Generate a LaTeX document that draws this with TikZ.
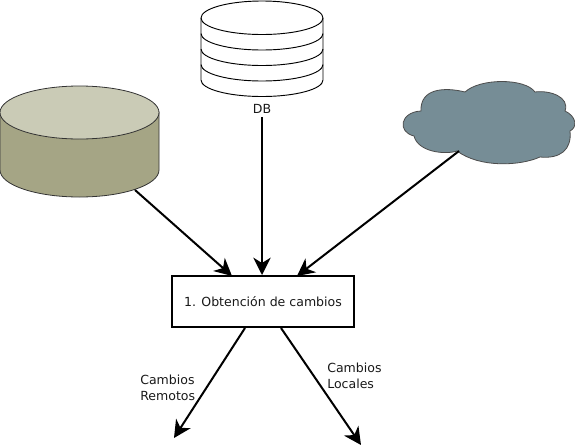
\documentclass[tikz,border=0pt]{standalone}
\usepackage{fontspec}
\setmainfont{DejaVu Sans}
\usetikzlibrary{arrows.meta}
\definecolor{cyltop}{HTML}{CACBB6}
\definecolor{cylside}{HTML}{A5A585}
\definecolor{cloudc}{HTML}{768D96}
\tikzset{
  conn/.style={draw=black,line width=1.5pt,-{Stealth[length=13pt,width=13pt,inset=4pt]}},
  lab/.style={font=\fontsize{9.4pt}{12pt}\selectfont,align=left,inner sep=0pt,text=black!90},
  thin outline/.style={draw=black!80,line width=0.6pt}
}
\begin{document}
\begin{tikzpicture}[x=0.75pt,y=-0.75pt]
\useasboundingbox (0,0) rectangle (575,447);
% source cylinder
\draw[thin outline,fill=cylside] (0,112) -- (0,170) arc[start angle=180,end angle=0,x radius=79.5,y radius=27] -- (159,112) -- cycle;
\draw[thin outline,fill=cyltop] (79.5,112.5) ellipse[x radius=79.5,y radius=26.5];
\coordinate (cylout) at (135,190);
% DB
\draw[draw=black,line width=0.7pt,fill=white] (201,18) -- (201,80) arc[start angle=180,end angle=0,x radius=61,y radius=16.5] -- (323,18) arc[start angle=0,end angle=-180,x radius=61,y radius=17] -- cycle;
\foreach \yy in {18,33.5,49,64.5}
  \draw[draw=black,line width=0.7pt] (201,\yy) arc[start angle=180,end angle=0,x radius=61,y radius=16.5];
\node[lab] (db) at (262,109) {DB};
% cloud
\draw[draw=black!70,line width=0.6pt,fill=cloudc]
  (465,92)
  .. controls (445,87) and (420,88) .. (421,111)
  .. controls (400,112) and (397,132) .. (414,136)
  .. controls (418,152) and (445,155) .. (457,151)
  .. controls (480,168) and (520,166) .. (540,157)
  .. controls (560,159) and (572,150) .. (570,131)
  .. controls (578,127) and (576,116) .. (565,111)
  .. controls (570,97) and (550,90) .. (535,92)
  .. controls (525,78) and (480,78) .. (465,92) -- cycle;
\coordinate (cloudout) at (459,151);
% process
\node[draw=black,line width=1.8pt,minimum width=181.5pt*0.75,minimum height=51.5pt*0.75,inner sep=0pt,lab,anchor=center] (proc) at (263,301.5) {1. Obtención de cambios};
\coordinate (in1) at (232,276);
\coordinate (in2) at (262,275);
\coordinate (in3) at (297,276);
\coordinate (o1s) at (245,328);
\coordinate (o2s) at (281,328);
\coordinate (o1) at (174,438);
\coordinate (o2) at (361,445);
\draw[conn] (cylout) -- (in1);
\draw[conn] (db.south -| in2) ++(0,3) -- (in2);
\draw[conn] (cloudout) -- (in3);
\draw[conn] (o1s) -- (o1);
\draw[conn] (o2s) -- (o2);
\node[lab,anchor=north west] (lr) at (140,375) {Cambios\\Remotos};
\node[lab,anchor=north west] (ll) at (327,363) {Cambios\\Locales};
\end{tikzpicture}
\end{document}
